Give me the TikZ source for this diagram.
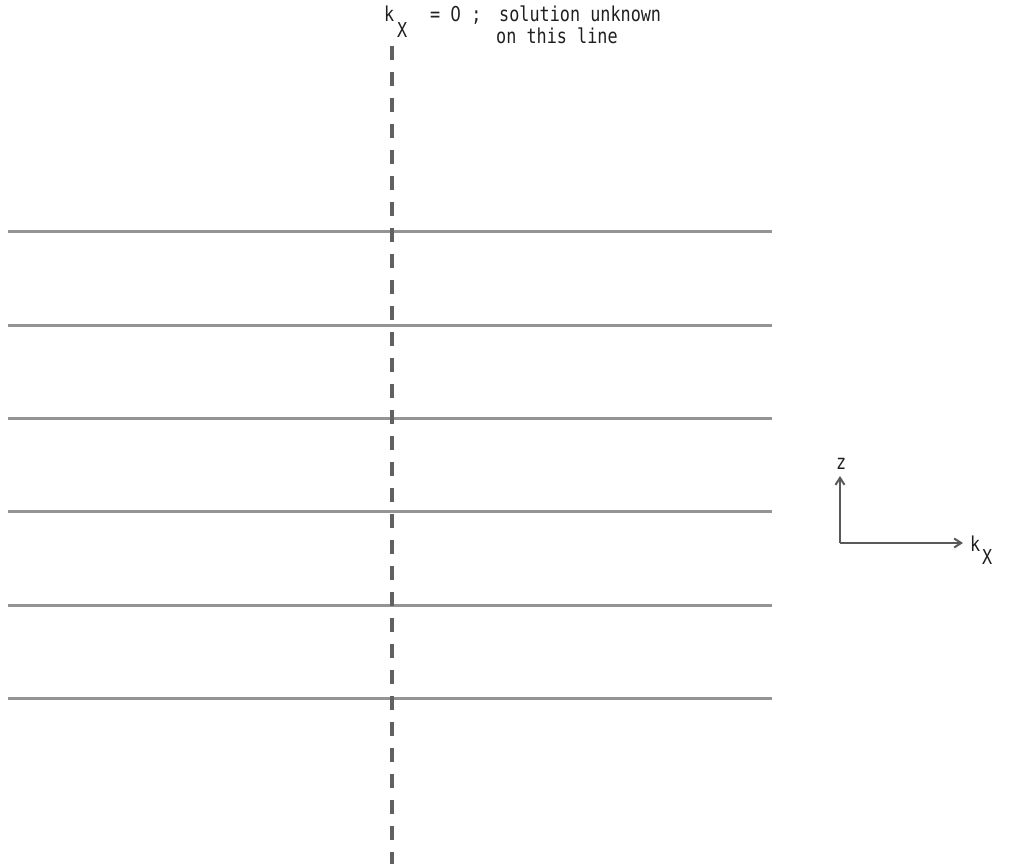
\documentclass[tikz,border=0pt]{standalone}
\usepackage{fontspec}
\newfontfamily\typewriter[FakeStretch=0.82]{DejaVu Sans Mono}
\newfontfamily\plaindigit[FakeStretch=0.82]{DejaVu Sans}
\usetikzlibrary{arrows.meta}
\begin{document}
\begin{tikzpicture}[x=1pt,y=-1pt,
  lbl/.style={font=\typewriter\fontsize{20.5}{24}\selectfont, text=black!88, inner sep=0pt, anchor=base west},
  gridline/.style={draw=black!42, line width=3pt},
  cutline/.style={draw=black!62, line width=3.6pt, dash pattern=on 14pt off 12pt},
  axis/.style={draw=black!65, line width=2pt, -{Straight Barb[length=7pt,width=9pt]}}]
  \useasboundingbox (0,0) rectangle (1013,867);

  % label of the dashed line
  \node[lbl] (k)   at (384,22) {k};
  \node[lbl] (kx)  at (397,38) {X};
  \node[lbl] (eq)  at (430,22) {= {\plaindigit 0} ;};
  \node[lbl] (sol) at (499,22) {solution unknown};
  \node[lbl] (on)  at (496,44) {on this line};

  % horizontal lines
  \foreach \i/\y in {1/231,2/325,3/418,4/511,5/605,6/698}{
    \coordinate (L\i) at (8,\y);
    \coordinate (R\i) at (772,\y);
    \draw[gridline] (L\i) -- (R\i);
  }

  % the line k_x = 0
  \coordinate (Ctop) at (392,46);
  \coordinate (Cbot) at (392,864);
  \draw[cutline] (Ctop) -- (Cbot);

  % axes
  \coordinate (O)  at (840,543);
  \coordinate (zt) at (840,476);
  \coordinate (xt) at (963,543);
  \draw[axis] (O) -- (zt);
  \draw[axis] (O) -- (xt);
  \node[lbl] (zl)  at (836,469) {z};
  \node[lbl] (kl)  at (970,551) {k};
  \node[lbl] (kxs) at (982,564) {X};
\end{tikzpicture}
\end{document}
